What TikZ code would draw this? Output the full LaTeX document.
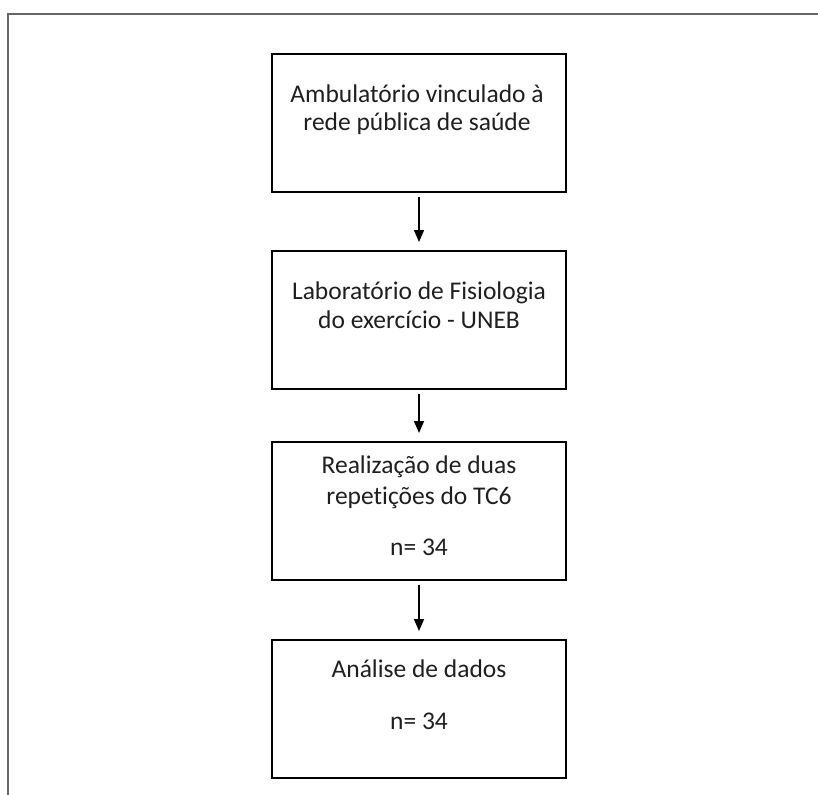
\documentclass[tikz,border=0pt]{standalone}
\usepackage{fontspec}
\setmainfont[Ligatures=NoCommon]{Carlito}
\usetikzlibrary{arrows.meta}
\begin{document}
\begin{tikzpicture}[x=1pt,y=-1pt,
  stepbox/.style={draw=black,line width=1.6pt,minimum width=294pt,minimum height=138pt,inner sep=0pt,anchor=north},
  txt/.style={anchor=base,inner sep=0pt,font=\fontsize{25.5}{30}\selectfont,text=black!88},
  flow/.style={line width=1.5pt,-{Triangle[length=12pt,width=10pt]},shorten <=4pt,shorten >=8pt}]
\useasboundingbox (0,0) rectangle (818,794);
\clip (0,0) rectangle (818,794);
\fill[white] (0,0) rectangle (818,794);
\draw[line width=2pt,draw=black!60] (8,820) -- (8,14) -- (830,14);
\node[stepbox] (b1) at (419,53) {};
\node[stepbox] (b2) at (419,250) {};
\node[stepbox] (b3) at (419,441) {};
\node[stepbox] (b4) at (419,639) {};
\node[txt] (t11) at (417,103) {Ambulatório vinculado à};
\node[txt] (t12) at (417,131) {rede pública de saúde};
\node[txt] (t21) at (419,299) {Laboratório de Fisiologia};
\node[txt] (t22) at (419,328) {do exercício - UNEB};
\node[txt] (t31) at (419,473) {Realização de duas};
\node[txt] (t32) at (419,504) {repet\kern0pt ições do TC6};
\node[txt] (t33) at (419,555) {n= 34};
\node[txt] (t41) at (419,677) {Análise de dados};
\node[txt] (t42) at (419,729) {n= 34};
\draw[flow] (b1.south) -- (b2.north);
\draw[flow] (b2.south) -- (b3.north);
\draw[flow] (b3.south) -- (b4.north);
\end{tikzpicture}
\end{document}
